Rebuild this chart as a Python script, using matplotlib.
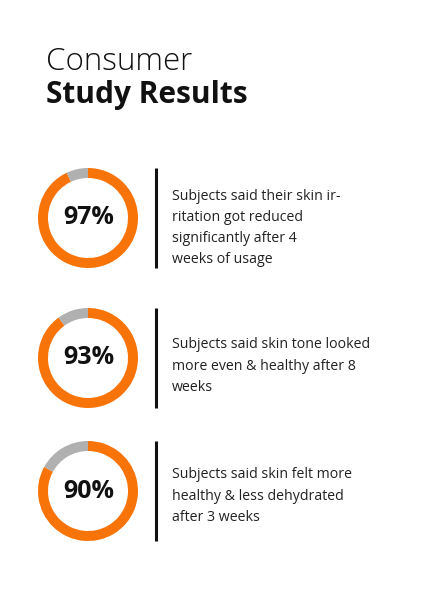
import matplotlib.pyplot as plt

W, H = 425, 596

# data
pct_labels = ["97%", "93%", "90%"]
arc_share = [93, 90, 83]          # orange share of each ring as drawn
captions = [
    "Subjects said their skin ir-\nritation got reduced\nsignificantly after 4\nweeks of usage",
    "Subjects said skin tone looked\nmore even & healthy after 8\nweeks",
    "Subjects said skin felt more\nhealthy & less dehydrated\nafter 3 weeks",
]

orange = "#F97408"
grey = "#B0B0B0"
font = "Open Sans"

fig = plt.figure(figsize=(W / 100, H / 100), dpi=100)
ax = fig.add_axes([0, 0, 1, 1])

# title
ax.text(46, H - 70, "Consumer", fontsize=22.5, family=font, weight="light", color="#111111")
ax.text(46, H - 103, "Study Results", fontsize=21.5, family=font, weight="bold", color="#111111")

centers_y = [218, 358, 491]
text_y = [228, 366, 496]
for lab, share, cap, cy, ty in zip(pct_labels, arc_share, captions, centers_y, text_y):
    yc = H - cy
    ax.pie([share, 100 - share], colors=[orange, grey], startangle=90, counterclock=False,
           center=(88, yc), radius=50, frame=True,
           wedgeprops=dict(width=10, linewidth=0))
    ax.text(89, yc, lab, fontsize=18, family=font, weight="bold", ha="center", va="center",
            color="#111111")
    ax.plot([156, 156], [yc - 50, yc + 50], color="#111111", lw=2.2, solid_capstyle="butt")
    ax.text(172, H - ty, cap, fontsize=10.2, family=font, weight="normal", va="center",
            linespacing=1.55, color="#222222")

ax.set_xlim(0, W)
ax.set_ylim(0, H)
ax.set_aspect("auto")
ax.axis("off")
fig.savefig("out.png", dpi=100, facecolor="white")
